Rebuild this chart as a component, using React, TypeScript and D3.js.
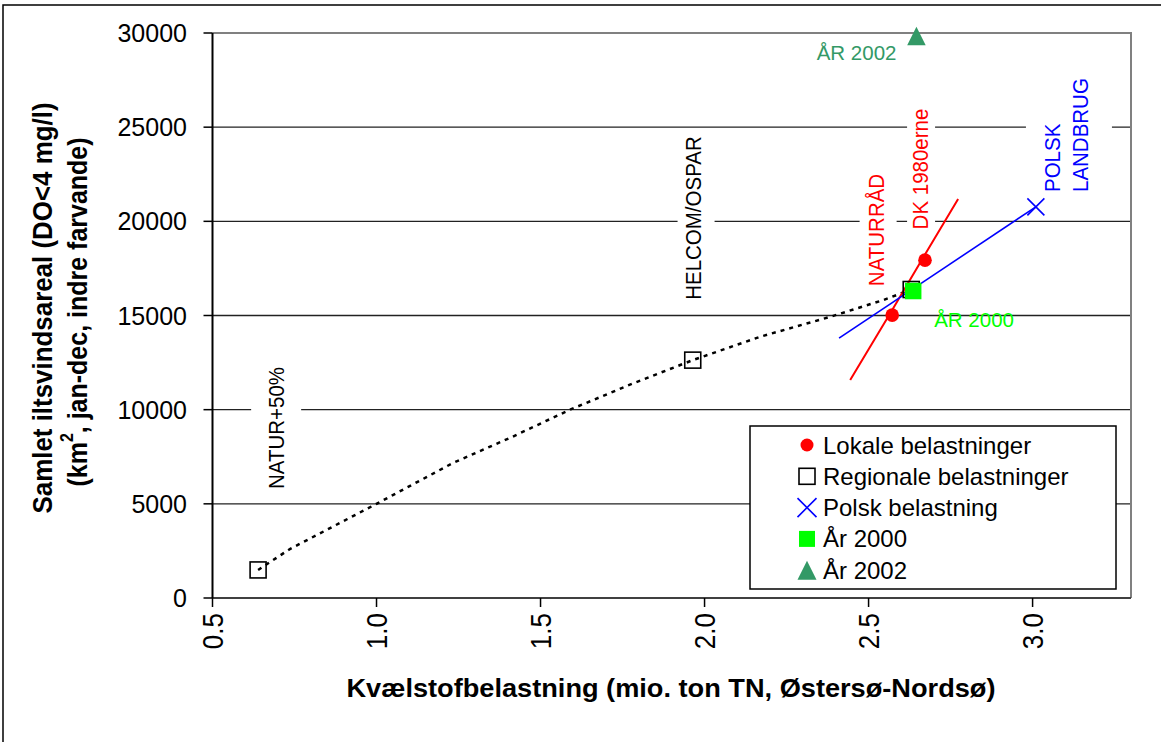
import React, { useEffect, useRef } from 'react';
import * as d3 from 'd3';

const xTicks = [0.5, 1.0, 1.5, 2.0, 2.5, 3.0];
const yTicks = [0, 5000, 10000, 15000, 20000, 25000, 30000];

// dotted regional curve
const regionalCurve: [number, number][] = [
  [0.639, 1490], [0.736, 2600], [1.0, 5000], [1.233, 7170], [1.413, 8550],
  [1.59, 10000], [1.78, 11380], [1.964, 12630], [2.169, 13870], [2.383, 14930],
  [2.545, 15820], [2.63, 16380],
];
const regionalPoints: [number, number][] = [[0.639, 1490], [1.964, 12630], [2.63, 16380]];
const localLine: [number, number][] = [[2.444, 11570], [2.572, 15290], [2.672, 18240], [2.773, 21180]];
const localPoints: [number, number][] = [[2.572, 15020], [2.672, 17940]];
const polskLine: [number, number][] = [[2.41, 13800], [3.01, 20770]];
const polskPoints: [number, number][] = [[3.01, 20770]];
const year2000: [number, number][] = [[2.636, 16300]];
const year2002: [number, number][] = [[2.646, 29840]];

const legendLabels = ['Lokale belastninger', 'Regionale belastninger', 'Polsk belastning', 'År 2000', 'År 2002'];

// rotated annotations: position in data units (center), box width in px
const rotatedNotes = [
  { lines: ['NATUR+50%'], x: 0.694, y: 9026, color: '#000', box: 50, boxDx: 0 },
  { lines: ['HELCOM/OSPAR'], x: 1.965, y: 20176, color: '#000', box: 37, boxDx: 3 },
  { lines: ['NATURRÅD'], x: 2.523, y: 19539, color: '#ff0000', box: 37, boxDx: 2 },
  { lines: ['DK 1980erne'], x: 2.657, y: 22778, color: '#ff0000', box: 28, boxDx: 1 },
];
const polskNote = { lines: ['POLSK', 'LANDBRUG'], x: 3.059, y: 21557, color: '#0000ff' };

const FONT = 'Liberation Sans, Arial, Helvetica, sans-serif';
const SX = 1.12;

const App = () => {
  const ref = useRef<SVGSVGElement>(null);

  useEffect(() => {
    const svg = d3.select(ref.current);
    svg.selectAll('*').remove();

    const plot = { left: 212.5, right: 1131, top: 33, bottom: 598 };
    const x = d3.scaleLinear().domain([0.5, 3.3]).range([plot.left, plot.right]);
    const y = d3.scaleLinear().domain([0, 30000]).range([plot.bottom, plot.top]);

    svg.append('rect').attr('width', 1161).attr('height', 742).attr('fill', '#fff');
    // outer chart frame (only top/left visible)
    svg.append('rect').attr('x', 3).attr('y', 5).attr('width', 1200).attr('height', 800)
      .attr('fill', 'none').attr('stroke', '#000').attr('stroke-width', 1.5);

    // gridlines
    svg.append('g').selectAll('line').data(yTicks.filter(t => t > 0 && t < 30000)).enter()
      .append('line')
      .attr('x1', plot.left).attr('x2', plot.right)
      .attr('y1', d => y(d)).attr('y2', d => y(d))
      .attr('stroke', '#222').attr('stroke-width', 1.3);

    // white boxes behind annotations sit above gridlines
    const boxG = svg.append('g');

    // plot border top/right
    svg.append('path')
      .attr('d', `M${plot.left},${plot.top}H${plot.right}V${plot.bottom}`)
      .attr('fill', 'none').attr('stroke', '#808080').attr('stroke-width', 2);

    // axes
    svg.append('line').attr('x1', plot.left).attr('x2', plot.right)
      .attr('y1', plot.bottom).attr('y2', plot.bottom)
      .attr('stroke', '#404040').attr('stroke-width', 2);
    svg.append('line').attr('x1', plot.left).attr('x2', plot.left)
      .attr('y1', plot.top).attr('y2', plot.bottom)
      .attr('stroke', '#000').attr('stroke-width', 2);

    svg.append('g').selectAll('line').data(yTicks).enter().append('line')
      .attr('x1', plot.left - 9).attr('x2', plot.left)
      .attr('y1', d => y(d)).attr('y2', d => y(d))
      .attr('stroke', '#000').attr('stroke-width', 1.5);
    svg.append('g').selectAll('line').data(xTicks).enter().append('line')
      .attr('x1', d => x(d)).attr('x2', d => x(d))
      .attr('y1', plot.bottom).attr('y2', plot.bottom + 9)
      .attr('stroke', '#000').attr('stroke-width', 1.5);

    svg.append('g').selectAll('text').data(yTicks).enter().append('text')
      .attr('x', 187).attr('y', d => y(d))
      .attr('text-anchor', 'end').attr('dominant-baseline', 'central')
      .attr('font-family', FONT).attr('font-size', 25)
      .text(d => String(d));

    svg.append('g').selectAll('text').data(xTicks).enter().append('text')
      .attr('transform', d => `translate(${x(d)},${plot.bottom + 15}) scale(${SX},1) rotate(-90)`)
      .attr('text-anchor', 'end').attr('dominant-baseline', 'central')
      .attr('font-family', FONT).attr('font-size', 26)
      .text(d => d.toFixed(1));

    // axis titles
    svg.append('text')
      .attr('transform', `translate(43,308) scale(${SX},1) rotate(-90)`)
      .attr('text-anchor', 'middle').attr('dominant-baseline', 'central')
      .attr('font-family', FONT).attr('font-size', 25).attr('font-weight', 'bold')
      .attr('textLength', 411).attr('lengthAdjust', 'spacingAndGlyphs')
      .text('Samlet iltsvindsareal (DO<4 mg/l)');
    const yt2 = svg.append('text')
      .attr('transform', `translate(78,312) scale(${SX},1) rotate(-90)`)
      .attr('text-anchor', 'middle').attr('dominant-baseline', 'central')
      .attr('font-family', FONT).attr('font-size', 25).attr('font-weight', 'bold');
    yt2.append('tspan').text('(km');
    yt2.append('tspan').attr('font-size', 16).attr('dy', -10).text('2');
    yt2.append('tspan').attr('dy', 10).text(', jan-dec, indre farvande)');

    svg.append('text')
      .attr('x', 671).attr('y', 697)
      .attr('text-anchor', 'middle')
      .attr('font-family', FONT).attr('font-size', 25).attr('font-weight', 'bold')
      .attr('textLength', 649).attr('lengthAdjust', 'spacingAndGlyphs')
      .text('Kvælstofbelastning (mio. ton TN, Østersø-Nordsø)');

    // rotated annotations with white boxes
    const noteSize = 20.5;
    rotatedNotes.forEach(n => {
      const t = svg.append('text')
        .attr('transform', `translate(${x(n.x)},${y(n.y)}) scale(${SX},1) rotate(-90)`)
        .attr('text-anchor', 'middle').attr('dominant-baseline', 'central')
        .attr('font-family', FONT).attr('font-size', noteSize).attr('fill', n.color)
        .text(n.lines[0]);
      const len = (t.node() as SVGTextElement).getComputedTextLength();
      boxG.append('rect')
        .attr('x', x(n.x) + n.boxDx - n.box / 2).attr('y', y(n.y) - len / 2 - 8)
        .attr('width', n.box).attr('height', len + 16)
        .attr('fill', '#fff');
    });
    {
      const bx = x(polskNote.x);
      const by = y(polskNote.y);
      boxG.append('rect')
        .attr('x', bx - 26).attr('y', by - 125).attr('width', 86).attr('height', 133)
        .attr('fill', '#fff');
      const t = svg.append('text')
        .attr('transform', `translate(${bx},${by}) scale(${SX},1) rotate(-90)`)
        .attr('text-anchor', 'start').attr('dominant-baseline', 'central')
        .attr('font-family', FONT).attr('font-size', noteSize).attr('fill', polskNote.color);
      polskNote.lines.forEach((l, i) => {
        t.append('tspan').attr('x', 0).attr('dy', i === 0 ? 0 : 25).text(l);
      });
    }

    svg.append('text')
      .attr('x', x(2.585)).attr('y', y(28566))
      .attr('text-anchor', 'end')
      .attr('font-family', FONT).attr('font-size', 20.5).attr('fill', '#339966')
      .text('ÅR 2002');
    svg.append('text')
      .attr('x', x(2.70)).attr('y', y(14390))
      .attr('font-family', FONT).attr('font-size', 20.5).attr('fill', '#00ff00')
      .text('ÅR 2000');

    // lines
    const line = d3.line<[number, number]>().x(d => x(d[0])).y(d => y(d[1]));
    svg.append('path').attr('d', line(regionalCurve))
      .attr('fill', 'none').attr('stroke', '#000').attr('stroke-width', 2.5)
      .attr('stroke-dasharray', '4 5');
    svg.append('path').attr('d', line(localLine))
      .attr('fill', 'none').attr('stroke', '#ff0000').attr('stroke-width', 2);
    svg.append('path').attr('d', line(polskLine))
      .attr('fill', 'none').attr('stroke', '#0000ff').attr('stroke-width', 1.6);

    // marker helpers
    const openSquare = (g: any, cx: number, cy: number, s: number) =>
      g.append('rect').attr('x', cx - s / 2).attr('y', cy - s / 2).attr('width', s).attr('height', s)
        .attr('fill', 'none').attr('stroke', '#000').attr('stroke-width', 1.6);
    const greenSquare = (g: any, cx: number, cy: number, s: number) =>
      g.append('rect').attr('x', cx - s / 2).attr('y', cy - s / 2).attr('width', s).attr('height', s)
        .attr('fill', '#00ff00');
    const cross = (g: any, cx: number, cy: number, s: number) =>
      g.append('path')
        .attr('d', `M${cx - s / 2},${cy - s / 2}L${cx + s / 2},${cy + s / 2}M${cx - s / 2},${cy + s / 2}L${cx + s / 2},${cy - s / 2}`)
        .attr('stroke', '#0000ff').attr('stroke-width', 1.6).attr('fill', 'none');
    const tri = (g: any, cx: number, cy: number, s: number) =>
      g.append('path')
        .attr('d', `M${cx},${cy - s / 2}L${cx + s / 2},${cy + s / 2}L${cx - s / 2},${cy + s / 2}Z`)
        .attr('fill', '#339966');
    const dot = (g: any, cx: number, cy: number, r: number) =>
      g.append('circle').attr('cx', cx).attr('cy', cy).attr('r', r).attr('fill', '#ff0000');

    const marks = svg.append('g');
    regionalPoints.forEach(p => openSquare(marks, x(p[0]), y(p[1]), 16));
    localPoints.forEach(p => dot(marks, x(p[0]), y(p[1]), 6.8));
    polskPoints.forEach(p => cross(marks, x(p[0]), y(p[1]), 17));
    year2000.forEach(p => greenSquare(marks, x(p[0]), y(p[1]), 16.5));
    year2002.forEach(p => tri(marks, x(p[0]), y(p[1]), 18.5));

    // legend
    const lg = svg.append('g');
    lg.append('rect').attr('x', 750).attr('y', 426).attr('width', 366).attr('height', 163)
      .attr('fill', '#fff').attr('stroke', '#000').attr('stroke-width', 1.5);
    const rowY = (i: number) => 445 + i * 31.3;
    const sym = 807;
    dot(lg, sym, rowY(0), 6.5);
    openSquare(lg, sym, rowY(1), 16);
    cross(lg, sym, rowY(2), 19);
    greenSquare(lg, sym, rowY(3), 16);
    tri(lg, sym, rowY(4), 19);
    lg.selectAll('text.lg').data(legendLabels).enter().append('text')
      .attr('class', 'lg')
      .attr('x', 823).attr('y', (d, i) => rowY(i) + 8.5)
      .attr('font-family', FONT).attr('font-size', 24)
      .text(d => d);
  }, []);

  return <svg ref={ref} width={1161} height={742} style={{ position: 'absolute', left: 0, top: 0 }} />;
};

export default App;
